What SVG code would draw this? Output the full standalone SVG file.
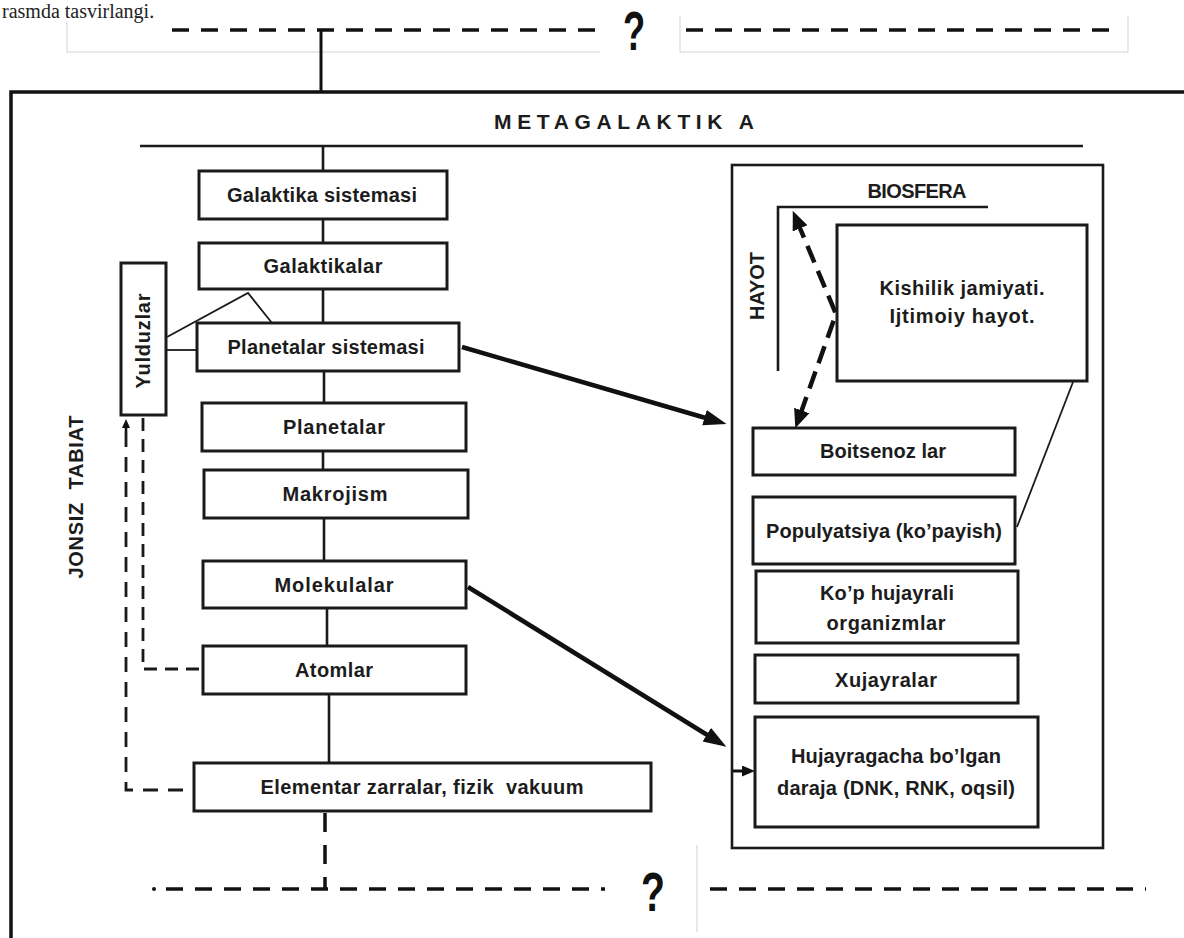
<svg xmlns="http://www.w3.org/2000/svg" width="1184" height="938" viewBox="0 0 1184 938">
<style>
.bg{fill:#ffffff}
.box{fill:#ffffff;stroke:#1a1a1a;stroke-width:3}
.ln{fill:none;stroke:#1a1a1a;stroke-width:2.6}
.thin{fill:none;stroke:#1a1a1a;stroke-width:1.8}
.faint{fill:none;stroke:#e2e2e2;stroke-width:1.5}
.dash{fill:none;stroke:#111;stroke-width:3.5;stroke-dasharray:17 12}
.dsm{fill:none;stroke:#1a1a1a;stroke-width:2.8;stroke-dasharray:14 9}
.t{font-family:"Liberation Sans",Arial,sans-serif;font-weight:bold;font-size:20px;fill:#1c1c1c;text-anchor:middle;white-space:pre}
.q{font-family:"Liberation Sans",Arial,sans-serif;font-weight:bold;font-size:56px;fill:#111;text-anchor:middle}
.cut{font-family:"Liberation Serif","Times New Roman",serif;font-size:20px;fill:#222}
</style>
<defs>
<marker id="big" markerUnits="userSpaceOnUse" markerWidth="24" markerHeight="18" refX="12" refY="8" orient="auto">
<path d="M0,0 L23,8 L0,16 z" fill="#111"/>
</marker>
<marker id="small" markerUnits="userSpaceOnUse" markerWidth="14" markerHeight="12" refX="6" refY="5.5" orient="auto">
<path d="M0,0 L13,5.5 L0,11 z" fill="#111"/>
</marker>
<marker id="mid" markerUnits="userSpaceOnUse" markerWidth="20" markerHeight="18" refX="8" refY="8" orient="auto-start-reverse">
<path d="M0,0 L19,8 L0,16 z" fill="#111"/>
</marker>
<marker id="tiny" markerUnits="userSpaceOnUse" markerWidth="10" markerHeight="10" refX="4" refY="4" orient="auto">
<path d="M0,0 L9,4 L0,8 z" fill="#111"/>
</marker>
</defs>
<rect class="bg" x="0" y="0" width="1184" height="938"/>

<text class="cut" x="2" y="18">rasmda tasvirlangi.</text>

<g id="top-placeholder">
<path class="faint" d="M67,22 V52 H600"/>
<path class="faint" d="M680,16 V52 H1128 V16"/>
<text class="q" transform="translate(634,50) scale(0.65,1)" x="0" y="0">?</text>
</g>

<g id="frame">
<path d="M11,938 V92 H1184" fill="none" stroke="#111" stroke-width="3.5"/>
<text class="t" x="627" y="129" textLength="266" style="font-size:21px;letter-spacing:6px">METAGALAKTIK A</text>
<line x1="140" y1="146" x2="1083" y2="146" stroke="#1a1a1a" stroke-width="2.6"/>
</g>

<g id="connectors">
<line class="dash" x1="172" y1="30" x2="595" y2="30"/>
<line class="dash" x1="686" y1="30" x2="1112" y2="30"/>
<line x1="321" y1="30" x2="321" y2="92" stroke="#111" stroke-width="3"/>
<line class="ln" x1="323" y1="146" x2="323" y2="171"/>
<line class="ln" x1="323" y1="219" x2="323" y2="243"/>
<line class="ln" x1="323" y1="289" x2="323" y2="323"/>
<line class="ln" x1="324" y1="371" x2="324" y2="403"/>
<line class="ln" x1="323" y1="451" x2="323" y2="470"/>
<line class="ln" x1="324" y1="518" x2="324" y2="561"/>
<line class="ln" x1="327" y1="608" x2="327" y2="646"/>
<line class="ln" x1="329" y1="694" x2="329" y2="763"/>
<line x1="325" y1="813" x2="325" y2="889" stroke="#111" stroke-width="3.5" stroke-dasharray="19 13"/>
<polyline class="thin" points="167,337 248,293 272,323"/>
<line class="thin" x1="167" y1="350" x2="197" y2="350"/>
<path class="dsm" d="M126,432 V790 H194" style="stroke-dasharray:15 10"/>
<line x1="126" y1="432" x2="126" y2="424" stroke="#111" stroke-width="2.6" marker-end="url(#tiny)"/>
<path class="dsm" d="M143,418 V669 H203" style="stroke-dasharray:13 8"/>
<line x1="462" y1="347" x2="716" y2="421" stroke="#111" stroke-width="4.5" marker-end="url(#big)"/>
<line x1="468" y1="587" x2="717" y2="741" stroke="#111" stroke-width="4.5" marker-end="url(#big)"/>
<line x1="733" y1="771" x2="748" y2="771" stroke="#111" stroke-width="3" marker-end="url(#small)"/>
<polyline points="797,221 836,314 799,418" fill="none" stroke="#111" stroke-width="4.5" stroke-dasharray="18 9" marker-start="url(#mid)" marker-end="url(#mid)"/>
<line class="thin" x1="1073" y1="382" x2="1017" y2="527"/>
<circle cx="154" cy="889" r="2" fill="#111"/>
<line class="dash" x1="166" y1="889" x2="605" y2="889"/>
<line class="dash" x1="710" y1="889" x2="1146" y2="889"/>
<line class="faint" x1="697" y1="845" x2="697" y2="932"/>
</g>

<g id="bottom-placeholder">
<text class="q" transform="translate(653,911) scale(0.7,1)" x="0" y="0">?</text>
</g>

<g id="n-galaktika-sistemasi">
<rect class="box" x="199" y="171" width="248" height="48"/>
<text class="t" x="322" y="202" textLength="190">Galaktika sistemasi</text>
</g>
<g id="n-galaktikalar">
<rect class="box" x="199" y="243" width="248" height="46"/>
<text class="t" x="323" y="273" textLength="119">Galaktikalar</text>
</g>
<g id="n-planetalar-sistemasi">
<rect class="box" x="197" y="323" width="262" height="48"/>
<text class="t" x="326" y="354" textLength="197">Planetalar sistemasi</text>
</g>
<g id="n-planetalar">
<rect class="box" x="202" y="403" width="264" height="48"/>
<text class="t" x="334" y="434" textLength="102">Planetalar</text>
</g>
<g id="n-makrojism">
<rect class="box" x="204" y="470" width="264" height="48"/>
<text class="t" x="335" y="501" textLength="105">Makrojism</text>
</g>
<g id="n-molekulalar">
<rect class="box" x="203" y="561" width="263" height="47"/>
<text class="t" x="334" y="592" textLength="119">Molekulalar</text>
</g>
<g id="n-atomlar">
<rect class="box" x="203" y="646" width="263" height="48"/>
<text class="t" x="334" y="677" textLength="78">Atomlar</text>
</g>
<g id="n-elementar">
<rect class="box" x="194" y="763" width="457" height="48"/>
<text class="t" x="422" y="794" textLength="323">Elementar zarralar, fizik  vakuum</text>
</g>
<g id="n-yulduzlar">
<rect class="box" x="121" y="263" width="45" height="152"/>
<text class="t" transform="translate(150,341) rotate(-90)" x="0" y="0" textLength="95">Yulduzlar</text>
</g>
<g id="l-jonsiz-tabiat">
<text class="t" transform="translate(83,497) rotate(-90)" x="0" y="0" textLength="163">JONSIZ  TABIAT</text>
</g>

<g id="n-biosfera">
<rect x="732" y="165" width="371" height="683" fill="none" stroke="#1a1a1a" stroke-width="2.6"/>
<text class="t" x="917" y="198" textLength="99">BIOSFERA</text>
<path class="ln" d="M988,207 H778 V371"/>
<text class="t" transform="translate(764,286) rotate(-90)" x="0" y="0" textLength="68">HAYOT</text>
</g>
<g id="n-kishilik">
<rect class="box" x="837" y="225" width="250" height="156"/>
<text class="t" x="962" y="295" textLength="165">Kishilik jamiyati.</text>
<text class="t" x="962" y="323" textLength="145">Ijtimoiy hayot.</text>
</g>
<g id="n-boitsenoz">
<rect class="box" x="753" y="428" width="262" height="47"/>
<text class="t" x="883" y="458" textLength="126">Boitsenoz lar</text>
</g>
<g id="n-populyatsiya">
<rect class="box" x="753" y="497" width="262" height="67"/>
<text class="t" x="884" y="538" textLength="236">Populyatsiya (ko’payish)</text>
</g>
<g id="n-kop-hujayrali">
<rect class="box" x="756" y="571" width="262" height="72"/>
<text class="t" x="887" y="600" textLength="134">Ko’p hujayrali</text>
<text class="t" x="886" y="630" textLength="119">organizmlar</text>
</g>
<g id="n-xujayralar">
<rect class="box" x="755" y="655" width="263" height="48"/>
<text class="t" x="886" y="687" textLength="102">Xujayralar</text>
</g>
<g id="n-hujayragacha">
<rect class="box" x="755" y="717" width="283" height="110"/>
<text class="t" x="896" y="763" textLength="210">Hujayragacha bo’lgan</text>
<text class="t" x="896" y="795" textLength="238">daraja (DNK, RNK, oqsil)</text>
</g>
</svg>
